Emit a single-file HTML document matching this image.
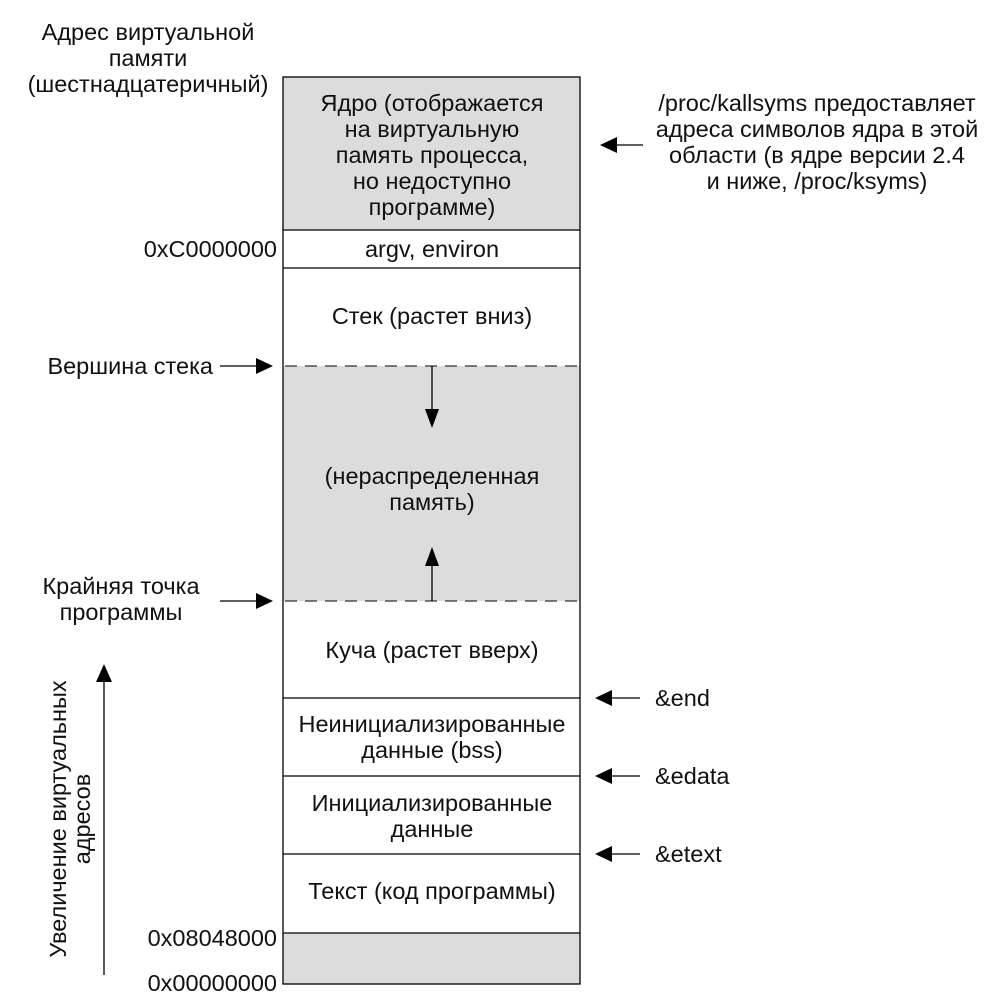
<!DOCTYPE html>
<html><head><meta charset="utf-8"><style>
html,body{margin:0;padding:0;background:#fff}
svg{display:block}
text{font-family:"Liberation Sans",sans-serif;font-size:23.5px;fill:#111}
</style></head><body>
<svg width="991" height="1003" viewBox="0 0 991 1003" xmlns="http://www.w3.org/2000/svg">
<rect x="283" y="77" width="297" height="153" fill="#dcdcdc"/>
<rect x="283" y="366" width="297" height="235" fill="#dcdcdc"/>
<rect x="283" y="933" width="297" height="51" fill="#dcdcdc"/>
<rect x="283" y="77" width="297" height="907" fill="none" stroke="#000" stroke-width="1.3"/>
<g stroke="#000" stroke-width="1.3">
<line x1="283" y1="230" x2="580" y2="230"/>
<line x1="283" y1="268" x2="580" y2="268"/>
<line x1="283" y1="698" x2="580" y2="698"/>
<line x1="283" y1="776" x2="580" y2="776"/>
<line x1="283" y1="854" x2="580" y2="854"/>
<line x1="283" y1="933" x2="580" y2="933"/>
</g>
<g stroke="#000" stroke-width="1.1" stroke-dasharray="12,8">
<line x1="285" y1="366" x2="580" y2="366"/>
<line x1="285" y1="601" x2="580" y2="601"/>
</g>
<g stroke="#000" stroke-width="1.3">
<line x1="432" y1="366" x2="432" y2="410"/>
<line x1="432" y1="601" x2="432" y2="565"/>
<line x1="220" y1="366" x2="258" y2="366"/>
<line x1="220" y1="601" x2="258" y2="601"/>
<line x1="643" y1="145" x2="615" y2="145"/>
<line x1="640" y1="698" x2="612" y2="698"/>
<line x1="640" y1="776" x2="612" y2="776"/>
<line x1="640" y1="854" x2="612" y2="854"/>
<line x1="104" y1="975" x2="104" y2="680"/>
</g>
<g fill="#000">
<path d="M425,409 L439,409 L432,428z"/>
<path d="M425,566 L439,566 L432,547z"/>
<path d="M256,358 L256,374 L273,366z"/>
<path d="M256,593 L256,609 L273,601z"/>
<path d="M617,137 L617,153 L600,145z"/>
<path d="M612,690 L612,706 L595,698z"/>
<path d="M612,768 L612,784 L595,776z"/>
<path d="M612,846 L612,862 L595,854z"/>
<path d="M96,682 L112,682 L104,664z"/>
</g>
<g text-anchor="middle">
<text x="432" y="111">Ядро (отображается</text>
<text x="432" y="137">на виртуальную</text>
<text x="432" y="163">память процесса,</text>
<text x="432" y="189">но недоступно</text>
<text x="432" y="215">программе)</text>
<text x="432" y="257">argv, environ</text>
<text x="432" y="324">Стек (растет вниз)</text>
<text x="432" y="484">(нераспределенная</text>
<text x="432" y="510">память)</text>
<text x="432" y="658">Куча (растет вверх)</text>
<text x="432" y="732">Неинициализированные</text>
<text x="432" y="758">данные (bss)</text>
<text x="432" y="811">Инициализированные</text>
<text x="432" y="837">данные</text>
<text x="432" y="899">Текст (код программы)</text>
<text x="148" y="40">Адрес виртуальной</text>
<text x="148" y="66">памяти</text>
<text x="148" y="92">(шестнадцатеричный)</text>
<text x="121" y="594">Крайняя точка</text>
<text x="121" y="620">программы</text>
<text x="817" y="111">/proc/kallsyms предоставляет</text>
<text x="817" y="137">адреса символов ядра в этой</text>
<text x="817" y="163">области (в ядре версии 2.4</text>
<text x="817" y="189">и ниже, /proc/ksyms)</text>
</g>
<g text-anchor="end">
<text x="277" y="257">0xC0000000</text>
<text x="213" y="374">Вершина стека</text>
<text x="277" y="946">0x08048000</text>
<text x="277" y="991">0x00000000</text>
</g>
<text x="655" y="706">&amp;end</text>
<text x="655" y="784">&amp;edata</text>
<text x="655" y="862">&amp;etext</text>
<g text-anchor="middle" transform="rotate(-90)">
<text x="-819" y="66">Увеличение виртуальных</text>
<text x="-819" y="90">адресов</text>
</g>
</svg>
</body></html>
